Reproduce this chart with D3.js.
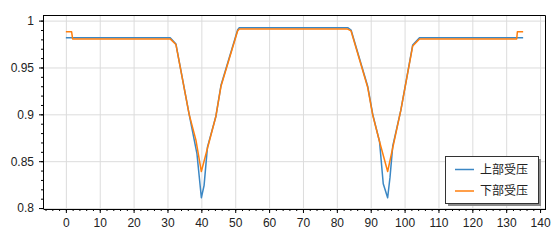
<!DOCTYPE html>
<html>
<head>
<meta charset="utf-8">
<script src="https://cdn.jsdelivr.net/npm/d3@7"></script>
<style>
  body { margin: 0; background: #fff; }
  svg { display: block; font-family: "Noto Sans", "Noto Sans CJK SC", sans-serif; }
</style>
</head>
<body>
<svg width="560" height="240"></svg>
<script>
// series names
const seriesNames = ['上部受压', '下部受压'];

// 上部受压 (knee points)
const upperX = [0, 30.8, 32.5, 36.4, 38.7, 40, 40.8, 41.8, 44.3, 45.8, 50.7, 51.2, 83.2, 84.2,
                89.1, 90.6, 92.6, 93.7, 95, 95.7, 96.5, 98.9, 102.4, 104.4, 135];
const upperY = [0.9818, 0.9818, 0.975, 0.900, 0.858, 0.811, 0.824, 0.865, 0.898, 0.931, 0.990, 0.9925, 0.9925, 0.990,
                0.930, 0.900, 0.871, 0.826, 0.811, 0.833, 0.866, 0.9045, 0.974, 0.9818, 0.9818];

// 下部受压
const lowerX = [0, 1.7, 2, 30.8, 32.5, 36.4, 38.4, 40, 44.3, 45.8, 50.7, 51.2, 83.2, 84.2,
                89.1, 90.6, 92.6, 95, 98.9, 102.4, 104.4, 133.1, 133.3, 135];
const lowerY = [0.988, 0.988, 0.9805, 0.9805, 0.9745, 0.900, 0.8725, 0.839, 0.898, 0.930, 0.989, 0.991, 0.991, 0.989,
                0.929, 0.899, 0.871, 0.839, 0.9045, 0.973, 0.9805, 0.9805, 0.988, 0.988];

// tick labels
const xTicks = d3.range(0, 141, 10);
const yTicks = [0.8, 0.85, 0.9, 0.95, 1];

const colors = ['#3b87c4', '#ff7f0e'];

const margin = {top: 15, right: 14, bottom: 31, left: 43},
      width = 560 - margin.left - margin.right,
      height = 240 - margin.top - margin.bottom;

const svg = d3.select('svg')
  .append('g')
    .attr('transform', 'translate(' + margin.left + ',' + margin.top + ')');

//--------------SCALES---------------------------------------
const xScale = d3.scaleLinear().domain([-6.75, 141.75]).range([0, width]);
const yScale = d3.scaleLinear().domain([0.799, 1.006]).range([height, 0]);

//--------------GRID-----------------------------------------
svg.append('g')
   .attr('transform', 'translate(0,' + height + ')')
   .call(d3.axisBottom(xScale).tickValues(xTicks).tickSize(-height).tickFormat(''))
   .call(g => g.select('.domain').remove())
   .selectAll('line').attr('stroke', '#dcdcdc');

svg.append('g')
   .call(d3.axisLeft(yScale).tickValues(yTicks).tickSize(-width).tickFormat(''))
   .call(g => g.select('.domain').remove())
   .selectAll('line').attr('stroke', '#dcdcdc');

//--------------LINES----------------------------------------
const line = d3.line()
  .x(d => xScale(d[0]))
  .y(d => yScale(d[1]));

const series = [
  upperX.map((x, i) => [x, upperY[i]]),
  lowerX.map((x, i) => [x, lowerY[i]])
];

series.forEach((s, i) => {
  svg.append('path')
     .datum(s)
     .attr('fill', 'none')
     .attr('stroke', colors[i])
     .attr('stroke-width', 1.5)
     .attr('stroke-linejoin', 'round')
     .attr('d', line);
});

//--------------AXES-----------------------------------------
const xMinor = svg.append('g')
  .attr('transform', 'translate(0,' + height + ')')
  .call(d3.axisBottom(xScale).tickValues(d3.range(-6, 142, 2)).tickSize(2).tickFormat(''));
xMinor.select('.domain').remove();

const axisX = svg.append('g')
  .attr('transform', 'translate(0,' + height + ')')
  .call(d3.axisBottom(xScale).tickValues(xTicks).tickSize(4).tickPadding(5).tickSizeOuter(0));
axisX.select('.domain').attr('d', 'M0.5,0.5H' + width);

const yMinor = svg.append('g')
  .call(d3.axisLeft(yScale).tickValues(d3.range(80, 101).map(v => v / 100)).tickSize(2).tickFormat(''));
yMinor.select('.domain').remove();

const axisY = svg.append('g')
  .call(d3.axisLeft(yScale).tickValues(yTicks).tickSize(4).tickPadding(5).tickSizeOuter(0)
          .tickFormat(d3.format('~g')));
axisY.select('.domain').attr('d', 'M0.5,0V' + height);

[axisX, axisY].forEach(a => a.selectAll('text')
  .attr('font-size', 12)
  .attr('fill', '#222'));

// top and right border
svg.append('path')
   .attr('d', 'M0,0.5H' + (width - 0.5) + 'V' + height)
   .attr('fill', 'none')
   .attr('stroke', '#000');

//--------------LEGEND---------------------------------------
const legend = svg.append('g')
  .attr('transform', 'translate(' + (445 - margin.left) + ',' + (156 - margin.top) + ')');

legend.append('rect')
  .attr('x', 3).attr('y', 3)
  .attr('width', 93).attr('height', 47)
  .attr('fill', '#8a8a8a');

legend.append('rect')
  .attr('x', 0.5).attr('y', 0.5)
  .attr('width', 93).attr('height', 47)
  .attr('fill', '#fff')
  .attr('stroke', '#333');

seriesNames.forEach((name, i) => {
  const cy = 13.5 + i * 21.5;
  legend.append('line')
    .attr('x1', 10).attr('x2', 29)
    .attr('y1', cy).attr('y2', cy)
    .attr('stroke', colors[i])
    .attr('stroke-width', 1.5);
  legend.append('text')
    .attr('x', 35).attr('y', cy)
    .attr('dy', '0.35em')
    .attr('font-size', 12)
    .attr('font-family', '"Noto Sans CJK SC", sans-serif')
    .attr('fill', '#222')
    .text(name);
});
</script>
</body>
</html>
